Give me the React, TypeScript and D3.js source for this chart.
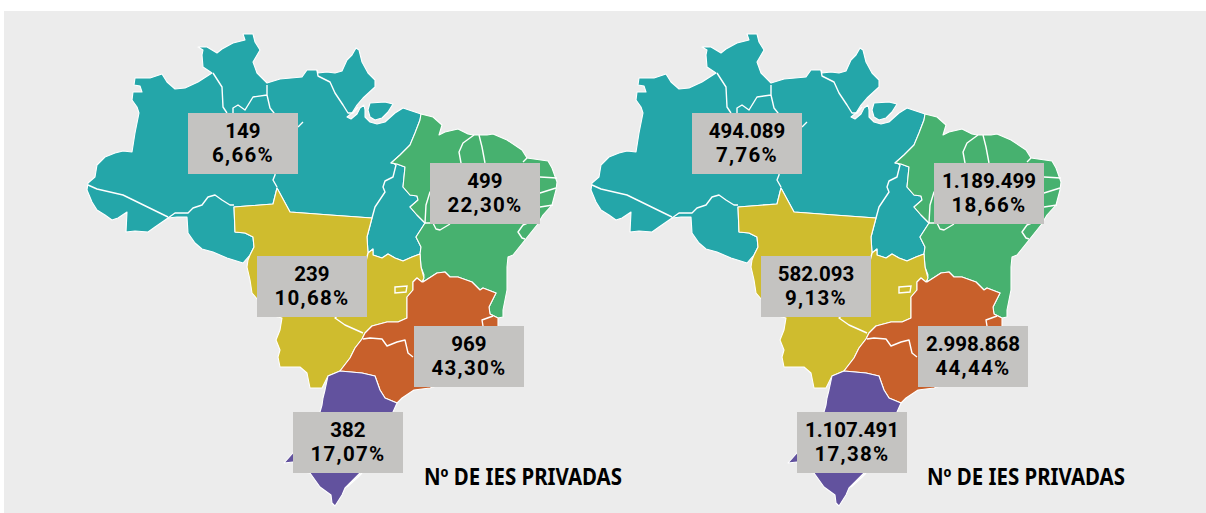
import React, { useRef, useEffect } from 'react';
import * as d3 from 'd3';

// valores
const regions = ['Norte', 'Nordeste', 'Centro-Oeste', 'Sudeste', 'Sul'];
const iesCount = ['149', '499', '239', '969', '382'];
const iesShare = ['6,66%', '22,30%', '10,68%', '43,30%', '17,07%'];
const enrolCount = ['494.089', '1.189.499', '582.093', '2.998.868', '1.107.491'];
const enrolShare = ['7,76%', '18,66%', '9,13%', '44,44%', '17,38%'];
const mapTitle = 'Nº DE IES PRIVADAS';

const regionColors = ['#24a6a9', '#47b16f', '#cfbc2e', '#c8602b', '#62529e'];

// contornos em unidades do mapa
const norte = [
  [87, 190], [88, 183], [95, 177], [97, 165], [105, 157], [115, 153], [123, 151], [132, 152], [135, 133], [139, 113],
  [137, 107], [132, 100], [133, 92], [142, 92], [140, 86], [134, 85], [135, 78], [150, 78], [162, 74], [167, 82],
  [175, 89], [185, 88], [198, 82], [212, 73], [203, 67], [202, 55], [203, 50], [198, 47], [207, 47], [217, 53],
  [222, 49], [233, 43], [245, 40], [243, 34], [253, 34], [255, 42], [260, 50], [253, 62], [257, 73], [267, 83],
  [280, 79], [302, 77], [307, 70], [317, 70], [318, 73], [327, 72], [335, 73], [342, 71], [347, 60], [352, 55],
  [356, 48], [359, 50], [362, 62], [368, 73], [375, 80], [375, 87], [363, 98], [357, 105], [352, 113], [347, 117],
  [351, 119], [357, 114], [360, 108], [364, 105], [365, 110], [365, 117], [370, 122], [377, 124], [385, 122], [395, 113],
  [403, 108], [421, 114], [420, 120], [415, 133], [410, 145], [400, 155], [391, 163], [397, 164], [405, 167], [403, 187],
  [410, 195], [417, 196], [418, 200], [410, 207], [417, 215], [425, 223], [416, 237], [421, 247], [420, 254], [412, 257],
  [403, 261], [395, 258], [388, 254], [382, 258], [373, 255], [373, 249], [368, 253], [367, 237], [372, 218], [330, 215],
  [290, 212], [277, 188], [273, 204], [234, 207], [235, 232], [245, 233], [253, 237], [254, 247], [250, 255], [243, 263],
  [227, 258], [213, 252], [202, 249], [195, 243], [188, 233], [187, 217], [177, 217], [168, 218], [155, 227], [148, 232],
  [135, 231], [126, 232], [127, 212], [118, 218], [112, 220], [105, 215], [97, 210], [92, 202],
];
const marajo = [[370, 103], [385, 102], [393, 104], [388, 112], [382, 118], [375, 120], [370, 117], [368, 110]];
const nordeste = [
  [421, 114], [433, 117], [442, 125], [439, 135], [445, 132], [458, 129], [468, 134], [473, 135], [487, 135], [493, 134],
  [507, 140], [522, 150], [527, 158], [548, 161], [552, 168], [557, 182], [556, 190], [552, 205], [543, 215], [537, 225],
  [525, 240], [513, 255], [508, 257], [507, 267], [507, 290], [503, 310], [503, 317], [498, 318], [490, 314], [489, 307],
  [496, 293], [483, 288], [480, 290], [472, 282], [458, 277], [450, 277], [445, 272], [437, 273], [423, 282], [424, 275],
  [421, 267], [420, 254], [421, 247], [416, 237], [425, 223], [417, 215], [410, 207], [418, 200], [417, 196], [410, 195],
  [403, 187], [405, 167], [397, 164], [391, 163], [400, 155], [410, 145], [415, 133], [420, 120],
];
const centroOeste = [
  [234, 207], [273, 204], [277, 188], [290, 212], [330, 215], [372, 218], [367, 237], [368, 253], [373, 249], [373, 255],
  [382, 258], [388, 254], [395, 258], [403, 261], [412, 257], [420, 254], [421, 267], [424, 278], [422, 282], [417, 278],
  [413, 282], [413, 290], [407, 297], [407, 308], [407, 318], [398, 322], [387, 322], [372, 326], [365, 333], [362, 339],
  [355, 348], [350, 358], [340, 371], [328, 376], [322, 388], [310, 388], [307, 373], [300, 367], [280, 367], [278, 357],
  [280, 350], [276, 340], [280, 330], [282, 318], [270, 315], [258, 300], [252, 293], [250, 280], [247, 267], [248, 260],
  [250, 255], [254, 247], [253, 237], [245, 233], [235, 232],
];
const sudeste = [
  [423, 282], [437, 273], [445, 272], [450, 277], [458, 277], [472, 282], [480, 290], [483, 288], [496, 293], [489, 307],
  [490, 314], [498, 318], [498, 327], [490, 350], [470, 375], [440, 385], [430, 388], [414, 390], [402, 398], [397, 403],
  [385, 398], [380, 390], [375, 376], [362, 373], [340, 371], [350, 358], [355, 348], [362, 339], [365, 333], [372, 326],
  [387, 322], [398, 322], [407, 318], [407, 308], [407, 297], [413, 290], [413, 282], [417, 278], [422, 282],
];
const sul = [
  [340, 371], [362, 373], [375, 376], [380, 390], [385, 398], [397, 403], [393, 412], [380, 445], [360, 473], [350, 483],
  [345, 488], [342, 495], [335, 506], [332, 503], [331, 495], [320, 487], [310, 473], [303, 472], [293, 462], [284, 463],
  [292, 454], [305, 435], [320, 412], [322, 405], [323, 398], [325, 390], [328, 376],
];
const regionShapes = [[norte, marajo], [nordeste], [centroOeste], [sudeste], [sul]];

// divisas estaduais
const stateLines = [
  [[213, 73], [222, 87], [223, 107], [227, 113]],
  [[233, 113], [233, 108], [238, 105], [245, 110], [253, 97], [267, 95], [267, 85]],
  [[267, 95], [270, 108], [274, 113], [277, 140], [275, 175], [273, 180], [277, 187]],
  [[298, 127], [303, 122]],
  [[88, 185], [97, 189], [123, 195], [168, 217]],
  [[168, 218], [175, 213], [180, 213], [188, 213], [193, 208], [202, 205], [208, 197], [215, 195], [222, 200], [230, 205], [234, 205]],
  [[317, 70], [318, 76], [330, 82], [335, 93], [343, 105], [348, 113], [353, 113], [358, 107]],
  [[372, 218], [375, 207], [385, 192], [383, 187], [385, 181], [393, 177], [396, 165], [393, 163]],
  [[474, 135], [463, 143], [459, 152], [461, 163], [445, 180], [430, 192], [426, 205], [425, 223], [433, 223], [436, 229], [440, 230], [450, 224]],
  [[479, 135], [482, 147], [485, 163]],
  [[523, 162], [527, 158]],
  [[535, 177], [540, 177], [557, 178]],
  [[535, 193], [540, 193], [556, 188]],
  [[535, 207], [540, 207], [553, 205]],
  [[530, 222], [523, 225], [518, 232], [522, 238], [525, 239]],
  [[368, 253], [360, 285], [345, 310], [335, 318], [345, 325], [363, 333]],
  [[493, 316], [482, 320], [483, 326]],
  [[363, 339], [370, 338], [382, 339], [387, 346], [397, 342], [405, 340], [408, 353], [413, 357]],
  [[347, 487], [358, 477], [362, 473]],
];
const federalDistrict = [[395, 287], [407, 286], [406, 292], [395, 293]];

// canto superior esquerdo de cada caixa
const boxCorners = [[188, 113], [430, 163], [257, 256], [414, 326], [293, 412]];

const panels = [
  { counts: iesCount, shares: iesShare, dx: 0 },
  { counts: enrolCount, shares: enrolShare, dx: 504 },
];

const App = () => {
  const svgRef = useRef<SVGSVGElement>(null);

  useEffect(() => {
    const svg = d3.select(svgRef.current);
    svg.selectAll('*').remove();

    svg.append('rect')
      .attr('x', 4).attr('y', 11)
      .attr('width', 1202).attr('height', 502)
      .attr('fill', '#ececec');

    const color = d3.scaleOrdinal<string, string>().domain(regions).range(regionColors);
    const closed = (ring: number[][]) => [...ring, ring[0]];

    panels.forEach((panel) => {
      const path = d3.geoPath(d3.geoIdentity().translate([panel.dx, 0]) as any);
      const g = svg.append('g');

      g.selectAll('.region')
        .data(regions)
        .enter()
        .append('path')
        .attr('class', 'region')
        .attr('d', (d, i) => path({ type: 'MultiPolygon', coordinates: regionShapes[i].map((r) => [closed(r)]) } as any))
        .attr('fill', (d) => color(d))
        .attr('stroke', '#ffffff')
        .attr('stroke-width', 1.1)
        .attr('stroke-linejoin', 'round');

      g.append('path')
        .attr('d', path({ type: 'MultiLineString', coordinates: stateLines } as any))
        .attr('fill', 'none')
        .attr('stroke', '#ffffff')
        .attr('stroke-width', 1.4)
        .attr('stroke-linejoin', 'round');

      g.append('path')
        .attr('d', path({ type: 'Polygon', coordinates: [closed(federalDistrict)] } as any))
        .attr('fill', 'none')
        .attr('stroke', '#ffffff')
        .attr('stroke-width', 1.4);

      const labels = g.selectAll('.label')
        .data(regions)
        .enter()
        .append('g')
        .attr('class', 'label')
        .attr('transform', (d, i) => `translate(${boxCorners[i][0] + panel.dx}, ${boxCorners[i][1]})`);

      labels.append('rect')
        .attr('width', 110)
        .attr('height', 61)
        .attr('fill', '#c4c3c1');

      const text = labels.append('text')
        .attr('text-anchor', 'middle')
        .attr('font-family', 'Roboto, sans-serif')
        .attr('font-weight', 700)
        .attr('font-size', 20.5)
        .attr('fill', '#000000');

      text.append('tspan')
        .attr('x', 55).attr('y', 25)
        .text((d, i) => panel.counts[i]);

      text.append('tspan')
        .attr('x', 55).attr('y', 49.2)
        .attr('letter-spacing', 1.3)
        .text((d, i) => panel.shares[i]);

      g.append('text')
        .attr('x', 424 + panel.dx - (panel.dx ? 1 : 0))
        .attr('y', 485)
        .attr('font-family', '"Noto Sans", sans-serif')
        .attr('font-weight', 700)
        .attr('font-size', 23)
        .attr('textLength', 198)
        .attr('lengthAdjust', 'spacingAndGlyphs')
        .attr('fill', '#000000')
        .text(mapTitle);
    });
  }, []);

  return (
    <svg ref={svgRef} width={1206} height={513} style={{ position: 'absolute', left: 0, top: 0 }}></svg>
  );
};

export default App;
